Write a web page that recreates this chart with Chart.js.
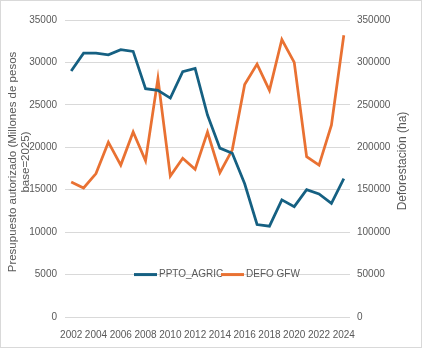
<!DOCTYPE html>
<html>
<head>
<meta charset="utf-8">
<script src="https://cdn.jsdelivr.net/npm/chart.js@4"></script>
<style>
  html, body { margin: 0; padding: 0; background: #fff; }
  #wrap { position: relative; width: 420px; height: 346px; border: 1px solid #d9d9d9; }
</style>
</head>
<body>
<div id="wrap"><canvas id="myChart" width="420" height="346"></canvas></div>
<script>
const years = ['2002','2003','2004','2005','2006','2007','2008','2009','2010','2011','2012',
  '2013','2014','2015','2016','2017','2018','2019','2020','2021','2022','2023','2024'];
const pptoAgric = [29000, 31100, 31100, 30900, 31500, 31300, 26900, 26700, 25800, 28900, 29300,
  23800, 19900, 19300, 15700, 10900, 10700, 13800, 13000, 15000, 14500, 13400, 16300];
const defoGfw = [159000, 152000, 169000, 206000, 179000, 218000, 184000, 281000, 166000, 187000, 174000,
  218000, 170000, 197000, 274000, 298000, 267000, 327000, 300000, 189000, 179000, 226000, 332000];
const leftTitle = ['Presupuesto autorizado (Millones de pesos', 'base=2025)'];
const rightTitle = 'Deforestación (ha)';

const blue = '#156082';
const orange = '#E97132';
const grey = '#595959';
const fam = 'Liberation Sans, Arial, sans-serif';
const font = { family: fam, size: 10 };

// legend inside the plot on the 5000 gridline, and both axis titles (read bottom to top)
const extras = {
    id: 'extras',
    afterDraw(chart) {
        const ctx = chart.ctx;
        const y = chart.scales.y.getPixelForValue(5000);
        const items = [
            { label: 'PPTO_AGRIC', color: blue, x: 133 },
            { label: 'DEFO GFW', color: orange, x: 220 }
        ];
        ctx.save();
        ctx.font = '10px ' + fam;
        ctx.textBaseline = 'middle';
        for (let item of items) {
            ctx.strokeStyle = item.color;
            ctx.lineWidth = 3;
            ctx.beginPath();
            ctx.moveTo(item.x, y);
            ctx.lineTo(item.x + 23, y);
            ctx.stroke();
            ctx.fillStyle = grey;
            ctx.fillText(item.label, item.x + 25, y);
        }
        ctx.textAlign = 'center';

        ctx.save();
        ctx.translate(12, 161);
        ctx.rotate(-Math.PI / 2);
        ctx.font = '11.5px ' + fam;
        ctx.fillText(leftTitle[0], 0, 0);
        ctx.fillText(leftTitle[1], 0, 13);
        ctx.restore();

        ctx.translate(402, 160);
        ctx.rotate(-Math.PI / 2);
        ctx.font = '12px ' + fam;
        ctx.fillText(rightTitle, 0, 0);
        ctx.restore();
    }
};

const ctx = document.getElementById('myChart').getContext('2d');
new Chart(ctx, {
    type: 'line',
    data: {
        labels: years,
        datasets: [{
            label: 'PPTO_AGRIC',
            data: pptoAgric,
            borderColor: blue,
            backgroundColor: blue,
            borderWidth: 2.75,
            pointRadius: 0,
            tension: 0,
            yAxisID: 'y'
        },
        {
            label: 'DEFO GFW',
            data: defoGfw,
            borderColor: orange,
            backgroundColor: orange,
            borderWidth: 2.75,
            pointRadius: 0,
            tension: 0,
            yAxisID: 'y1'
        }]
    },
    options: {
        responsive: false,
        animation: false,
        layout: { padding: { top: 19, bottom: 0, left: 0, right: 0 } },
        plugins: {
            legend: { display: false },
            tooltip: { enabled: false }
        },
        scales: {
            x: {
                offset: true,
                grid: { display: false },
                border: { display: false },
                ticks: {
                    color: grey,
                    font: font,
                    autoSkip: false,
                    maxRotation: 0,
                    padding: 4,
                    callback: function(val, i) { return i % 2 === 0 ? years[i] : ''; }
                },
                afterFit: function(scale) { scale.height = 30; }
            },
            y: {
                position: 'left',
                min: 0,
                max: 35000,
                ticks: {
                    stepSize: 5000, color: grey, font: font, padding: 8,
                    callback: function(v) { return String(v); }
                },
                grid: { color: '#d9d9d9', drawTicks: false },
                border: { display: false },
                afterFit: function(scale) { scale.width = 64; }
            },
            y1: {
                position: 'right',
                min: 0,
                max: 350000,
                ticks: {
                    stepSize: 50000, color: grey, font: font, padding: 7,
                    callback: function(v) { return String(v); }
                },
                grid: { drawOnChartArea: false, drawTicks: false },
                border: { display: false },
                afterFit: function(scale) { scale.width = 71; }
            }
        }
    },
    plugins: [extras]
});
</script>
</body>
</html>
